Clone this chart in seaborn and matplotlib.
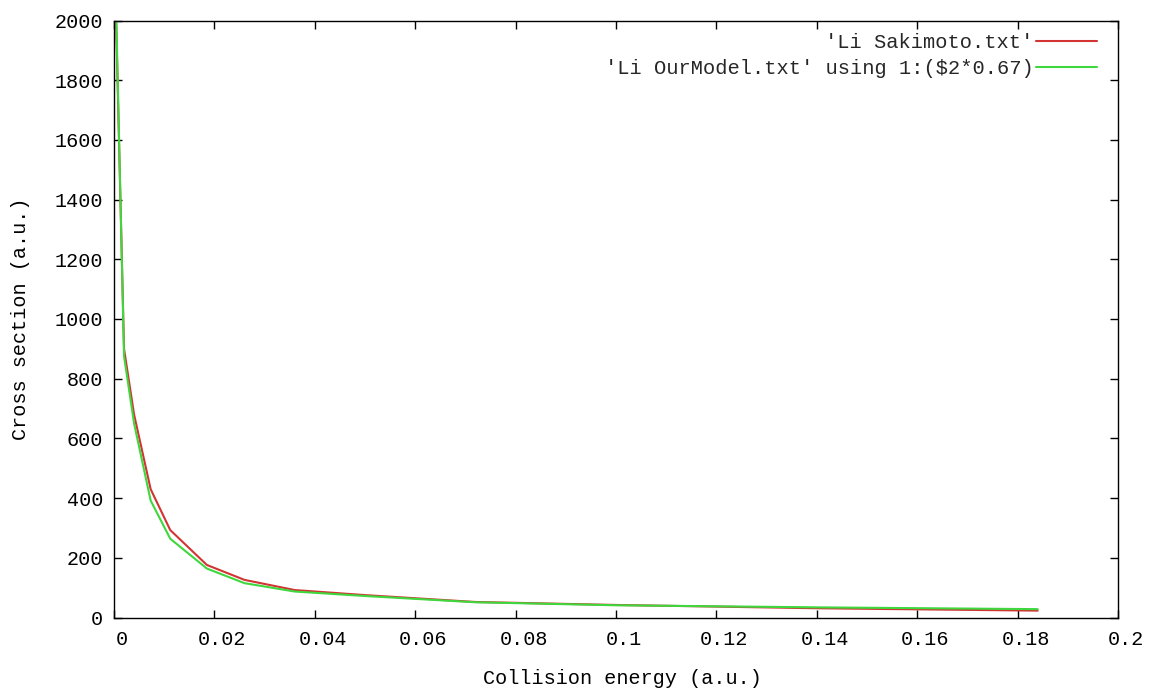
import matplotlib
matplotlib.use("Agg")
import matplotlib.pyplot as plt
import matplotlib.transforms as mtransforms
import numpy as np
import pandas as pd
import seaborn as sns

# Collision energies (a.u.) and cross sections (a.u.)
energy = [0.0002, 0.002, 0.004, 0.0073, 0.0112, 0.0185, 0.026, 0.036,
          0.05, 0.072, 0.1, 0.14, 0.184]
sakimoto = [2150, 900, 680, 430, 293, 176, 126, 92, 75, 52, 42, 31, 23]
our_model_scaled = [2200, 875, 650, 392, 264, 164, 115, 87, 72, 51, 41, 34, 28]

label_sakimoto = "'Li Sakimoto.txt'"
label_model = "'Li OurModel.txt' using 1:($2*0.67)"

x_ticks = [0, 0.02, 0.04, 0.06, 0.08, 0.1, 0.12, 0.14, 0.16, 0.18, 0.2]
x_tick_labels = ["0", "0.02", "0.04", "0.06", "0.08", "0.1", "0.12", "0.14",
                 "0.16", "0.18", "0.2"]
y_ticks = list(range(0, 2001, 200))

sns.set_theme(style="white")
plt.rcParams["font.family"] = ["Liberation Mono", "DejaVu Sans Mono"]
plt.rcParams["font.size"] = 14.5

df_s = pd.DataFrame({"energy": energy, "xs": sakimoto})
df_m = pd.DataFrame({"energy": energy, "xs": our_model_scaled})

W, H = 1153, 692
fig = plt.figure(figsize=(W / 100, H / 100), dpi=100)
ax = fig.add_axes([114 / W, (H - 617.5) / H, (1118 - 114) / W, (617.5 - 20.5) / H])

sns.lineplot(data=df_s, x="energy", y="xs", ax=ax, sort=False, estimator=None,
             color="#d23434", linewidth=1.5, label=label_sakimoto)
sns.lineplot(data=df_m, x="energy", y="xs", ax=ax, sort=False, estimator=None,
             color="#3ed83e", linewidth=1.5, label=label_model)

ax.set_xlim(0, 0.2)
ax.set_ylim(0, 2000)
ax.set_xticks(x_ticks)
ax.set_xticklabels(x_tick_labels)
ax.set_yticks(y_ticks)
ax.set_yticklabels([str(v) for v in y_ticks])

for side in ["left", "right", "top", "bottom"]:
    ax.spines[side].set_visible(True)
    ax.spines[side].set_color("black")
    ax.spines[side].set_linewidth(1.0)

ax.tick_params(axis="both", which="major", direction="in", length=6, width=1.0,
               color="black", labelcolor="black", labelsize=14.5,
               top=True, right=True, bottom=True, left=True)
ax.tick_params(axis="y", pad=8)
ax.tick_params(axis="x", pad=9)

shift = mtransforms.ScaledTranslation(8 / 100, 0, fig.dpi_scale_trans)
for lbl in ax.get_xticklabels():
    lbl.set_transform(lbl.get_transform() + shift)

ax.set_xlabel("Collision energy (a.u.)", fontsize=14.5, color="black")
ax.set_ylabel("Cross section (a.u.)", fontsize=14.5, color="black")
ax.xaxis.set_label_coords((622 - 114) / (1118 - 114), -(678 - 617.5) / (617.5 - 20.5))
ax.yaxis.set_label_coords(-(114 - 21) / (1118 - 114), 0.5)
ax.xaxis.label.set_va("center")
ax.yaxis.label.set_va("center")

leg = ax.legend(loc="upper right", bbox_to_anchor=(1 - 21 / 1004, 1 - 13 / 597),
                frameon=False, markerfirst=False, handlelength=3.0,
                handletextpad=0.1, labelspacing=0.32, borderpad=0,
                borderaxespad=0, fontsize=14.7)
for line in leg.get_lines():
    line.set_linewidth(1.5)

fig.savefig("out.png", dpi=100, facecolor="white")
